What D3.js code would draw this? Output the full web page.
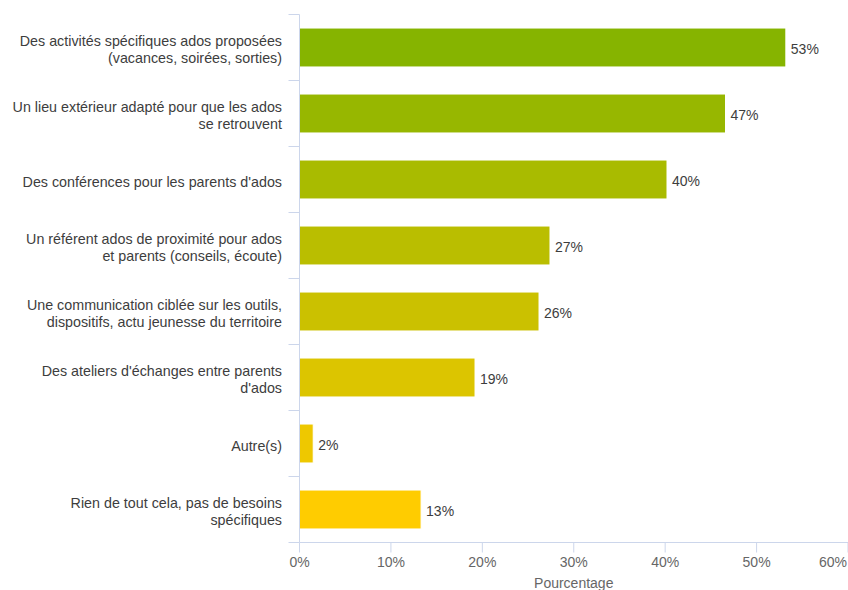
<!DOCTYPE html>
<head>
  <meta charset="utf-8">
  <script src="https://cdn.jsdelivr.net/npm/d3@7"></script>
  <style>
    body { margin: 0; background: #fff; }
    text { font-family: "Liberation Sans", Arial, sans-serif; }
  </style>
</head>

<body>
  <div id="chart"></div>

  <script>
    // Categories (line breaks as in the chart)
    var categories = [
        "Des activités spécifiques ados proposées\n(vacances, soirées, sorties)",
        "Un lieu extérieur adapté pour que les ados\nse retrouvent",
        "Des conférences pour les parents d'ados",
        "Un référent ados de proximité pour ados\net parents (conseils, écoute)",
        "Une communication ciblée sur les outils,\ndispositifs, actu jeunesse du territoire",
        "Des ateliers d'échanges entre parents\nd'ados",
        "Autre(s)",
        "Rien de tout cela, pas de besoins\nspécifiques"
    ];

    // Percentages
    var values = [53.2, 46.6, 40.2, 27.4, 26.2, 19.2, 1.5, 13.3];

    var barColours = ["#86b400", "#97b700", "#a9bb00", "#babe00",
                      "#cbc100", "#dcc500", "#eec800", "#ffcc00"];

    var xTicks = [0, 10, 20, 30, 40, 50, 60];

    var width = 848, height = 590;
    var plot = {left: 299.5, right: 848, top: 14.5, bottom: 542.5};

    var svg = d3.select("#chart").append("svg")
        .attr("width", width)
        .attr("height", height);

    var x = d3.scaleLinear().domain([0, 60]).range([plot.left, plot.right]);
    var y = d3.scaleBand().domain(d3.range(categories.length))
        .range([plot.top, plot.bottom])
        .paddingInner(0.41)
        .paddingOuter(0.205);
    var step = y.step();

    // Bars
    svg.selectAll("rect.bar")
        .data(values)
        .enter().append("rect")
        .attr("class", "bar")
        .attr("x", x(0))
        .attr("y", function(d, i) { return y(i); })
        .attr("width", function(d) { return x(d) - x(0); })
        .attr("height", y.bandwidth())
        .style("fill", function(d, i) { return barColours[i]; })
        .style("stroke", "#ffffff")
        .style("stroke-width", 1);

    // Value labels
    svg.selectAll("text.val")
        .data(values)
        .enter().append("text")
        .attr("class", "val")
        .attr("x", function(d) { return x(d) + 5; })
        .attr("y", function(d, i) { return y(i) + y.bandwidth() / 2 + 6.5; })
        .style("font-size", "14px")
        .style("fill", "#3d3d3d")
        .text(function(d) { return Math.round(d) + "%"; });

    // Category axis line and boundary ticks
    svg.append("line")
        .attr("x1", plot.left).attr("x2", plot.left)
        .attr("y1", plot.top).attr("y2", plot.bottom)
        .style("stroke", "#ccd6eb").style("stroke-width", 1);

    d3.range(categories.length + 1).forEach(function(i) {
        var yy = plot.top + i * step;
        svg.append("line")
            .attr("x1", plot.left - 11).attr("x2", plot.left)
            .attr("y1", yy).attr("y2", yy)
            .style("stroke", "#ccd6eb").style("stroke-width", 1);
    });

    // Category labels
    categories.forEach(function(c, i) {
        var lines = c.split("\n");
        var cy = y(i) + y.bandwidth() / 2 + 2;
        var t = svg.append("text")
            .attr("text-anchor", "end")
            .style("font-size", "14.3px")
            .style("fill", "#3d3d3d");
        lines.forEach(function(l, j) {
            t.append("tspan")
                .attr("x", 282)
                .attr("y", cy + (j - (lines.length - 1) / 2) * 17 + 5)
                .text(l);
        });
    });

    // Value axis
    svg.append("line")
        .attr("x1", plot.left).attr("x2", plot.right)
        .attr("y1", plot.bottom).attr("y2", plot.bottom)
        .style("stroke", "#ccd6eb").style("stroke-width", 1);

    xTicks.forEach(function(t) {
        svg.append("line")
            .attr("x1", x(t)).attr("x2", x(t))
            .attr("y1", plot.bottom).attr("y2", plot.bottom + 10)
            .style("stroke", "#ccd6eb").style("stroke-width", 1);
        var last = t === xTicks[xTicks.length - 1];
        svg.append("text")
            .attr("x", last ? width - 1 : x(t))
            .attr("y", plot.bottom + 24)
            .attr("text-anchor", last ? "end" : "middle")
            .style("font-size", "14px")
            .style("fill", "#666666")
            .text(t + "%");
    });

    svg.append("text")
        .attr("x", (plot.left + plot.right) / 2)
        .attr("y", 588)
        .attr("text-anchor", "middle")
        .style("font-size", "14px")
        .style("fill", "#666666")
        .text("Pourcentage");
  </script>
</body>
